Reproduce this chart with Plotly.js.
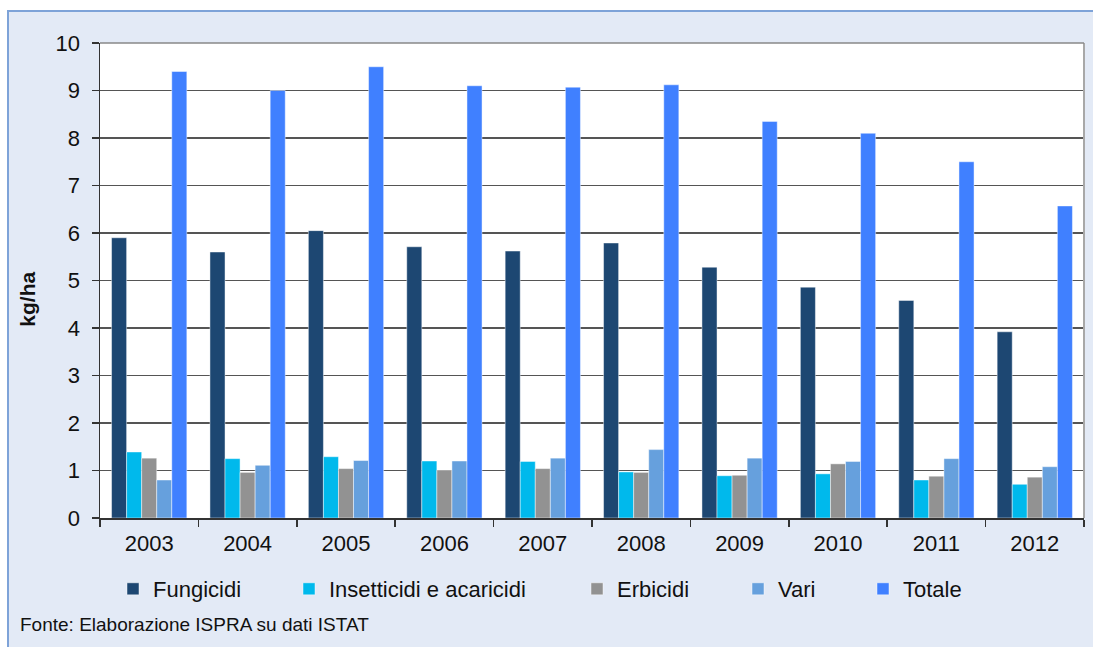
<!DOCTYPE html>
<html>
<head>
<meta charset="utf-8">
<script src="https://cdn.plot.ly/plotly-3.0.1.min.js"></script>
<style>
  html, body { margin: 0; padding: 0; background: #ffffff; }
  #frame {
    position: absolute; left: 7px; top: 10px;
    width: 1084px; height: 635px;
    border-left: 2px solid #7EA3D8; border-top: 2px solid #7EA3D8;
    background: #E3EAF6;
  }
  #chart { width: 1084px; height: 635px; }
</style>
</head>
<body>
<div id="frame"><div id="chart"></div></div>
<script>
const years = ["2003","2004","2005","2006","2007","2008","2009","2010","2011","2012"];
const fungicidi   = [5.90, 5.60, 6.05, 5.71, 5.62, 5.79, 5.28, 4.86, 4.58, 3.92];
const insetticidi = [1.39, 1.25, 1.29, 1.20, 1.19, 0.97, 0.89, 0.93, 0.80, 0.71];
const erbicidi    = [1.26, 0.96, 1.04, 1.01, 1.04, 0.96, 0.90, 1.14, 0.88, 0.86];
const vari        = [0.80, 1.11, 1.21, 1.20, 1.26, 1.44, 1.26, 1.19, 1.25, 1.08];
const totale      = [9.40, 9.00, 9.50, 9.10, 9.07, 9.12, 8.35, 8.10, 7.50, 6.57];
const yTicks = [0,1,2,3,4,5,6,7,8,9,10];

const names  = ["Fungicidi", "Insetticidi e acaricidi", "Erbicidi", "Vari", "Totale"];
const series = [fungicidi, insetticidi, erbicidi, vari, totale];
const colors = ["#1D4772", "#00B9EC", "#929292", "#66A0DD", "#4080FF"];
const legendIds = ["legend", "legend2", "legend3", "legend4", "legend5"];

// plot area in div px: left 91, width 984, top 31, height 475
const L = 91, W = 984, T = 31, H = 475;
const px = x => (x - L) / W;
const py = y => (T + H - y) / H;

const traces = series.map((vals, i) => ({
  type: "bar",
  name: names[i],
  x: years,
  y: vals,
  marker: { color: colors[i], line: { color: "rgba(255,255,255,0.45)", width: 1 } },
  legend: legendIds[i],
  hoverinfo: "x+y+name"
}));

const font = "Liberation Sans, Arial, sans-serif";
// legend symbol x positions (page px) -> div px
const legendX = [133, 309, 597, 758, 883];
const legendLayouts = {};
legendX.forEach((xp, i) => {
  legendLayouts[legendIds[i]] = {
    x: px(xp - 9 - 20), xanchor: "left",
    y: py(589 - 12), yanchor: "middle",
    orientation: "h",
    bgcolor: "rgba(0,0,0,0)",
    borderwidth: 0,
    font: { family: font, size: 22, color: "#111" }
  };
});

const layout = Object.assign({
  width: 1084, height: 635,
  margin: { l: L, r: 9, t: T, b: 129, pad: 0 },
  paper_bgcolor: "#E3EAF6",
  plot_bgcolor: "#ffffff",
  barmode: "group",
  bargap: 0.235,
  bargroupgap: 0,
  showlegend: true,
  font: { family: font, size: 22, color: "#111" },
  xaxis: {
    type: "category",
    tickson: "boundaries",
    ticks: "outside", ticklen: 7, tickwidth: 1.5, tickcolor: "#333",
    showline: true, linecolor: "#333", linewidth: 1.5,
    showgrid: false,
    tickfont: { family: font, size: 22, color: "#111" },
    ticklabelstandoff: 5,
    fixedrange: true
  },
  yaxis: {
    range: [0, 10],
    tickvals: yTicks,
    ticktext: yTicks.map(String),
    ticks: "outside", ticklen: 7, tickwidth: 1.5, tickcolor: "#333",
    showline: true, linecolor: "#333", linewidth: 1.5,
    showgrid: true, gridcolor: "#555555", gridwidth: 1.5,
    zeroline: false,
    tickfont: { family: font, size: 22, color: "#111" },
    ticklabelstandoff: 7,
    fixedrange: true
  },
  shapes: [
    { type: "line", xref: "paper", yref: "paper", x0: 1, x1: 1, y0: 0, y1: 1,
      line: { color: "#A8A8A8", width: 2 } },
    { type: "line", xref: "paper", yref: "paper", x0: 0, x1: 1, y0: 1, y1: 1,
      line: { color: "#888888", width: 1.5 } }
  ],
  annotations: [
    { text: "<b>kg/ha</b>", xref: "paper", yref: "paper",
      x: px(26.7 - 9), y: py(299 - 12), xanchor: "center", yanchor: "middle",
      textangle: -90, showarrow: false,
      font: { family: font, size: 21, color: "#111" } },
    { text: "Fonte: Elaborazione ISPRA su dati ISTAT", xref: "paper", yref: "paper",
      x: px(18 - 9), y: py(624 - 12), xanchor: "left", yanchor: "middle",
      showarrow: false,
      font: { family: font, size: 19, color: "#111" } }
  ]
}, legendLayouts);

Plotly.newPlot("chart", traces, layout, { displayModeBar: false, staticPlot: true });
</script>
</body>
</html>
